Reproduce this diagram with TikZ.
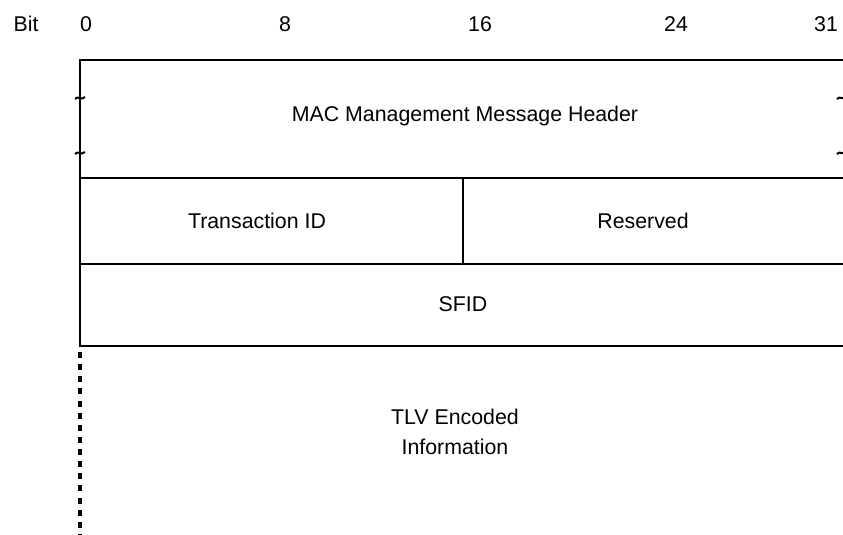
\documentclass[tikz,border=0pt]{standalone}
\usepackage{fontspec}
\setmainfont{Liberation Sans}
\usepackage{tikz}
\usetikzlibrary{positioning,calc}

\begin{document}
\begin{tikzpicture}[
  x=0.75pt, y=-0.75pt,
  font=\fontsize{16}{19}\selectfont,
  fld/.style={align=center,inner sep=0pt},
  rule/.style={line width=1.6pt},
  tlv/.style={line width=2.6pt,dash pattern=on 4.5pt off 4.6pt},
  tld/.style={line width=1.5pt}
]
\useasboundingbox (0,0) rectangle (843,535);
% bit ruler
\node[fld] (bit) at (26,24) {Bit};
\node[fld] (b0) at (86,24) {0};
\node[fld] (b8) at (285,24) {8};
\node[fld] (b16) at (480,24) {16};
\node[fld] (b24) at (676,24) {24};
\node[fld] (b31) at (826,24) {31};
% frame
\coordinate (tl) at (80,60);
\coordinate (tr) at (843,60);
\coordinate (r1) at (80,178);
\coordinate (r1e) at (843,178);
\coordinate (r2) at (80,264);
\coordinate (r2e) at (843,264);
\coordinate (bl) at (80,346);
\coordinate (br) at (843,346);
\coordinate (mid1) at (463,178);
\coordinate (mid2) at (463,264);
\draw[rule] (tr) -- (tl) -- (bl) -- (br);
\draw[rule] (r1) -- (r1e);
\draw[rule] (r2) -- (r2e);
\draw[rule] (mid1) -- (mid2);
% continuation marks
\foreach \yy in {98,153}{
  \draw[tld] (75,\yy+1) .. controls (78,\yy-3) and (81,\yy+3) .. (85,\yy-1);
  \draw[tld] (837,\yy+1) .. controls (840,\yy-3) and (843,\yy+3) .. (847,\yy-1);
}
% fields
\node[fld] (hdr) at (465,116) {MAC Management Message Header};
\node[fld] (tid) at (257,221) {Transaction ID};
\node[fld] (rsv) at (643,221) {Reserved};
\node[fld] (sfid) at (463,304) {SFID};
\node[fld] (tlvtxt) at (455,432) {TLV Encoded\\[3pt]Information};
% open-ended part
\coordinate (tlvtop) at (80,352);
\coordinate (tlvbot) at (80,535);
\draw[tlv] (tlvtop) -- (tlvbot);
\end{tikzpicture}
\end{document}
